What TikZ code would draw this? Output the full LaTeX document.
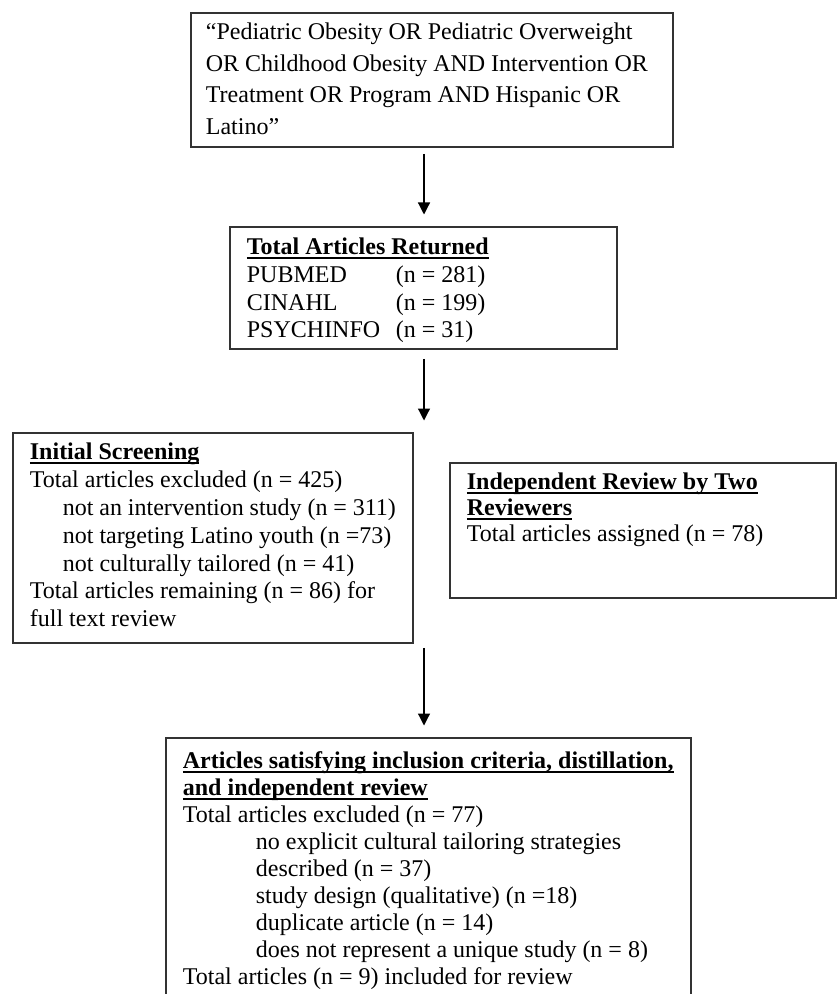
\documentclass[tikz,border=0pt]{standalone}
\usepackage{fontspec}
\setmainfont{Liberation Serif}
\usetikzlibrary{arrows.meta}

\newcommand{\headline}[1]{\leavevmode\setbox0\hbox{\bfseries #1}\rlap{\vrule width\wd0 height -1.2pt depth 2pt}\box0}
\newcommand{\boxbody}[5]{\parbox[c][#2][t]{#1}{\raggedright\fontsize{12}{#3}\selectfont\rule{0pt}{#4}#5}}

\begin{document}
\begin{tikzpicture}[x=0.5pt,y=-0.5pt,every node/.style={inner sep=0pt},
  flowbox/.style={draw=black!80,line width=0.9pt,inner xsep=8.5pt,inner ysep=0pt,anchor=north west},
  flow/.style={-{Triangle[length=6pt,width=6pt]},line width=0.6pt,shorten <=2pt,shorten >=5.75pt}]
\useasboundingbox (0,0) rectangle (836,994);
\node[flowbox,inner xsep=7.5pt](query) at (190,12){\boxbody{226pt}{67pt}{15.75pt}{13.5pt}{“Pediatric Obesity OR Pediatric Overweight\\OR Childhood Obesity AND Intervention OR\\Treatment OR Program AND Hispanic OR\\Latino”}} ;
\node[flowbox](returned) at (229,226){\boxbody{176.5pt}{61pt}{13.8pt}{14pt}{\headline{Total Articles Returned}\\\makebox[74.5pt][l]{PUBMED}(n = 281)\\\makebox[74.5pt][l]{CINAHL}(n = 199)\\\makebox[74.5pt][l]{PSYCHINFO}(n = 31)}} ;
\node[flowbox](screening) at (12,432){\boxbody{183pt}{105pt}{13.9pt}{13.5pt}{\headline{Initial Screening}\\Total articles excluded (n = 425)\\\hspace*{16.5pt}not an intervention study (n = 311)\\\hspace*{16.5pt}not targeting Latino youth (n =73)\\\hspace*{16.5pt}not culturally tailored (n = 41)\\Total articles remaining (n = 86) for\\full text review}} ;
\node[flowbox](review) at (449,462){\boxbody{176pt}{67.5pt}{13pt}{13.5pt}{\headline{Independent Review by Two}\\\headline{Reviewers}\\Total articles assigned (n = 78)}} ;
\node[flowbox](included) at (165,737){\boxbody{245.5pt}{140pt}{13.45pt}{15.5pt}{\headline{Articles satisfying inclusion criteria, distillation,}\\\headline{and independent review}\\Total articles excluded (n = 77)\\\hspace*{36.5pt}no explicit cultural tailoring strategies\\\hspace*{36.5pt}described (n = 37)\\\hspace*{36.5pt}study design (qualitative) (n =18)\\\hspace*{36.5pt}duplicate article (n = 14)\\\hspace*{36.5pt}does not represent a unique study (n = 8)\\Total articles (n = 9) included for review}} ;
\coordinate (axis) at (424,0) ;
\draw[flow,shorten <=3pt] (query.south -| axis) -- (returned.north -| axis) ;
\draw[flow,shorten <=4.5pt] (returned.south -| axis) -- (screening.north -| axis) ;
\draw[flow] (screening.south -| axis) -- (included.north -| axis) ;
\end{tikzpicture}
\end{document}
